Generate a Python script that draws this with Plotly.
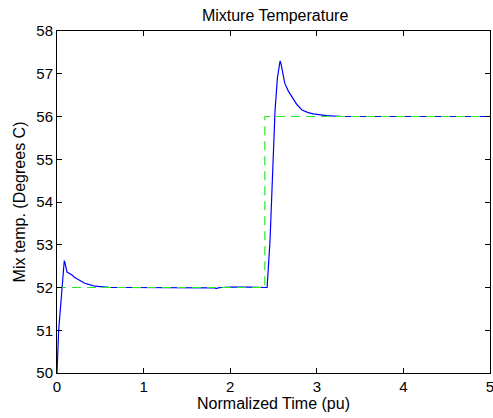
import plotly.graph_objects as go

# Measured mixture temperature (blue)
time_meas = [0, 0.019, 0.038, 0.058, 0.072, 0.084, 0.092, 0.102, 0.115, 0.135, 0.155, 0.173, 0.2,
             0.23, 0.269, 0.32, 0.384, 0.44, 0.5, 0.6, 0.8, 1.0, 1.2, 1.5, 1.78, 1.82, 1.84,
             1.86, 1.9, 2.0, 2.2, 2.426, 2.46, 2.487, 2.518, 2.545, 2.563, 2.576, 2.588, 2.605,
             2.63, 2.67, 2.71, 2.77, 2.83, 2.9, 2.96, 3.03, 3.11, 3.3, 3.6, 4.0, 4.5, 5.0]
temp_meas = [50, 51.0, 51.47, 52.02, 52.4, 52.63, 52.58, 52.44, 52.36, 52.34, 52.32, 52.29, 52.24,
             52.2, 52.15, 52.1, 52.06, 52.03, 52.02, 52.005, 52.0, 52.0, 52.0, 52.0, 52.0, 51.99, 51.975,
             51.99, 52.0, 52.01, 52.01, 52.0, 53.1, 54.6, 56.15, 56.9, 57.2, 57.3, 57.22, 57.0,
             56.78, 56.6, 56.46, 56.28, 56.15, 56.09, 56.06, 56.04, 56.02, 56.0, 56.0, 56.0, 56.0, 56.0]

# Reference set-point (green dashed)
time_ref = [0, 2.4, 2.4, 5]
temp_ref = [52, 52, 56, 56]

x_ticks = [0, 1, 2, 3, 4, 5]
y_ticks = [50, 51, 52, 53, 54, 55, 56, 57, 58]

fig = go.Figure()
fig.add_trace(go.Scatter(x=time_meas, y=temp_meas, mode="lines",
                         line=dict(color="rgb(0,0,255)", width=1.2), showlegend=False))
fig.add_trace(go.Scatter(x=time_ref, y=temp_ref, mode="lines",
                         line=dict(color="rgb(40,235,40)", width=1.2, dash="9px,6px"), showlegend=False))

font = "Liberation Sans, Arial, Helvetica, sans-serif"
fig.update_layout(
    width=493, height=418,
    margin=dict(l=57, r=3, t=31, b=45, autoexpand=False),
    paper_bgcolor="white", plot_bgcolor="white",
    font=dict(family=font, size=15, color="black"),
    title=dict(text="Mixture Temperature", x=0.558, xanchor="center",
               y=1 - 15 / 418, yanchor="middle", yref="container",
               font=dict(family=font, size=16, color="black")),
    xaxis=dict(range=[0, 5], tickvals=x_ticks, ticks="inside", ticklen=5, tickcolor="black",
               showline=True, linecolor="black", linewidth=1, mirror="ticks",
               showgrid=False, zeroline=False, ticklabeloverflow="allow",
               tickfont=dict(size=15),
               title=dict(text="Normalized Time (pu)", standoff=2, font=dict(size=16))),
    yaxis=dict(range=[50, 58], tickvals=y_ticks, ticks="inside", ticklen=5, tickcolor="black",
               showline=True, linecolor="black", linewidth=1, mirror="ticks",
               showgrid=False, zeroline=False, ticklabeloverflow="allow",
               tickfont=dict(size=15),
               title=dict(text="Mix temp. (Degrees C)", standoff=6, font=dict(size=16))),
)

fig.write_html("out.html")
